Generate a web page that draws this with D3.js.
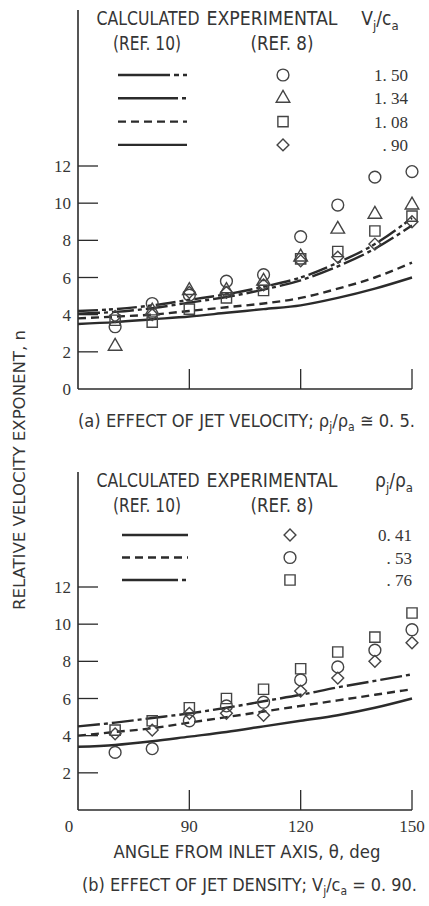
<!DOCTYPE html>
<html>
<head>
<meta charset="utf-8">
<script src="https://cdn.jsdelivr.net/npm/d3@7"></script>
<style>
  body { margin: 0; background: #fff; }
  svg { display: block; }
  .lbl { font-family: "Liberation Sans Narrow", "DejaVu Sans Condensed", "Roboto Condensed", sans-serif; fill: #353535; }
  .num { font-family: "Liberation Serif", "DejaVu Serif", serif; fill: #353535; }
</style>
</head>
<body>
<svg width="429" height="906"></svg>
<script>
// angles along the calculated curves
const curveAngles = [60, 70, 80, 90, 100, 110, 120, 130, 140, 150];
// angles of the measured points
const pointAngles = [70, 80, 90, 100, 110, 120, 130, 140, 150];

// (a) jet velocity, Vj/ca
const calcA150 = [4.2, 4.3, 4.5, 4.8, 5.1, 5.5, 6.0, 6.8, 7.8, 9.2];
const calcA134 = [4.05, 4.15, 4.35, 4.65, 4.95, 5.35, 5.85, 6.6, 7.55, 8.8];
const calcA108 = [3.8, 3.9, 4.0, 4.2, 4.4, 4.6, 4.9, 5.4, 6.0, 6.8];
const calcA090 = [3.5, 3.6, 3.75, 3.9, 4.1, 4.3, 4.5, 4.9, 5.4, 6.0];

const expA150 = [3.35, 4.6, 5.05, 5.8, 6.15, 8.2, 9.9, 11.4, 11.7];
const expA134 = [2.3, 4.2, 5.3, 5.3, 5.8, 7.1, 8.6, 9.4, 9.9];
const expA108 = [3.7, 3.6, 4.3, 4.9, 5.3, 7.0, 7.4, 8.5, 9.3];
const expA090 = [3.9, 4.0, 5.2, 5.2, 5.6, 6.9, 7.1, 7.8, 9.0];

const labelsA = ["1. 50", "1. 34", "1. 08", ". 90"];

// (b) jet density, rhoj/rhoa
const calcB041 = [3.4, 3.5, 3.7, 3.95, 4.2, 4.5, 4.8, 5.1, 5.5, 6.0];
const calcB053 = [4.0, 4.2, 4.4, 4.7, 5.0, 5.3, 5.6, 5.9, 6.2, 6.5];
const calcB076 = [4.5, 4.7, 4.95, 5.2, 5.5, 5.85, 6.2, 6.6, 6.95, 7.3];

const expB041 = [4.1, 4.3, 5.2, 5.2, 5.1, 6.4, 7.1, 8.0, 9.0];
const expB053 = [3.1, 3.3, 4.8, 5.6, 5.8, 7.0, 7.7, 8.6, 9.7];
const expB076 = [4.3, 4.8, 5.5, 6.0, 6.5, 7.6, 8.5, 9.3, 10.6];

const labelsB = ["0. 41", ". 53", ". 76"];

const yTicks = [2, 4, 6, 8, 10, 12];
const xTicks = [90, 120, 150];

const ink = "#2b2b2b";
const svg = d3.select("svg");

const x = d3.scaleLinear().domain([60, 150]).range([78, 412]);

const dashes = {
  longShortShort: "20,4,4,3,4,4",
  longShort: "22,4,4,4",
  dashed: "8,5",
  solid: null
};

function symbolPath(type) {
  const t = {
    circle: d3.symbolCircle, triangle: d3.symbolTriangle,
    square: d3.symbolSquare, diamond: d3.symbolSquare
  }[type];
  const size = { circle: 110, triangle: 80, square: 105, diamond: 70 }[type];
  return d3.symbol(t, size)();
}

function drawSymbol(g, type, cx, cy) {
  g.append("path")
    .attr("d", symbolPath(type))
    .attr("transform", `translate(${cx},${cy})` + (type === "diamond" ? " rotate(45)" : ""))
    .attr("fill", "none")
    .attr("stroke", "#444")
    .attr("stroke-width", 1.4);
}

// text helper: fixed width so the scan's condensed lettering lines up
function label(sel, cls, x0, y0, size, txt, len, anchor) {
  const t = sel.append("text").attr("class", cls).attr("x", x0).attr("y", y0)
    .attr("font-size", size).attr("text-anchor", anchor || "middle").text(txt);
  if (len) t.attr("textLength", len).attr("lengthAdjust", "spacingAndGlyphs");
  return t;
}

function drawPanel(opt) {
  const y = d3.scaleLinear().domain([0, 12]).range([opt.bottom, opt.bottom - 223]);
  const g = svg.append("g");

  // axes
  g.append("line").attr("x1", x(60)).attr("x2", x(60))
    .attr("y1", opt.axisTop).attr("y2", y(0))
    .attr("stroke", ink).attr("stroke-width", 1.6);
  g.append("line").attr("x1", x(60)).attr("x2", x(150))
    .attr("y1", y(0)).attr("y2", y(0))
    .attr("stroke", ink).attr("stroke-width", 1.6);

  yTicks.forEach(t => {
    g.append("line").attr("x1", x(60)).attr("x2", x(60) + 20)
      .attr("y1", y(t)).attr("y2", y(t))
      .attr("stroke", ink).attr("stroke-width", 1.3);
    g.append("text").attr("class", "num")
      .attr("x", 71).attr("y", y(t)).attr("dy", "0.36em")
      .attr("text-anchor", "end").attr("font-size", 17).text(t);
  });
  xTicks.forEach(t => {
    g.append("line").attr("x1", x(t)).attr("x2", x(t))
      .attr("y1", y(0)).attr("y2", y(0) - 20)
      .attr("stroke", ink).attr("stroke-width", 1.3);
  });

  // curves
  const line = d3.line()
    .x((d, i) => x(curveAngles[i]))
    .y(d => y(d))
    .curve(d3.curveMonotoneX);

  opt.series.forEach(s => {
    g.append("path").attr("d", line(s.calc))
      .attr("fill", "none").attr("stroke", ink)
      .attr("stroke-width", 2.4)
      .attr("stroke-dasharray", dashes[s.dash]);
  });

  // measured points
  opt.series.forEach(s => {
    s.exp.forEach((v, i) => drawSymbol(g, s.symbol, x(pointAngles[i]), y(v)));
  });

  // legend
  const hy = opt.legendHeader;
  label(g, "lbl", 148, hy, 19, "CALCULATED", 103);
  label(g, "lbl", 147, hy + 25, 19, "(REF. 10)", 68);
  label(g, "lbl", 272, hy, 19, "EXPERIMENTAL", 131);
  label(g, "lbl", 282, hy + 25, 19, "(REF. 8)", 63);

  const ht = g.append("text").attr("class", "lbl").attr("x", opt.ratioX).attr("y", hy)
    .attr("text-anchor", "middle").attr("font-size", 19);
  ht.append("tspan").text(opt.ratio[0]);
  ht.append("tspan").attr("font-size", 13).attr("dy", 5).text(opt.ratio[1]);
  ht.append("tspan").attr("dy", -5).text("/" + opt.ratio[2]);
  ht.append("tspan").attr("font-size", 13).attr("dy", 5).text(opt.ratio[3]);

  opt.series.forEach((s, i) => {
    const ry = opt.rowTop + i * opt.rowStep;
    g.append("line").attr("x1", opt.keyX[0]).attr("x2", opt.keyX[1])
      .attr("y1", ry).attr("y2", ry)
      .attr("stroke", ink).attr("stroke-width", 2.4)
      .attr("stroke-dasharray", s.legendDash);
    drawSymbol(g, s.symbol, opt.symX, ry);
    g.append("text").attr("class", "num")
      .attr("x", opt.valX).attr("y", ry).attr("dy", "0.36em")
      .attr("text-anchor", "end").attr("font-size", 17).text(s.label);
  });
  return y;
}

// panel (a)
const yA = drawPanel({
  bottom: 389, axisTop: 10, legendHeader: 25,
  ratio: ["V", "j", "c", "a"], ratioX: 380,
  rowTop: 75, rowStep: 23.3, keyX: [118, 187], symX: 283, valX: 408,
  series: [
    { calc: calcA150, exp: expA150, symbol: "circle", dash: "longShortShort", legendDash: "52,4,5,4,5,4", label: labelsA[0] },
    { calc: calcA134, exp: expA134, symbol: "triangle", dash: "longShort", legendDash: "60,4,4,4", label: labelsA[1] },
    { calc: calcA108, exp: expA108, symbol: "square", dash: "dashed", legendDash: "8,5", label: labelsA[2] },
    { calc: calcA090, exp: expA090, symbol: "diamond", dash: "solid", legendDash: null, label: labelsA[3] }
  ]
});
svg.append("text").attr("class", "num").attr("x", 71).attr("y", yA(0)).attr("dy", "0.36em")
  .attr("text-anchor", "end").attr("font-size", 17).text("0");

const capA = svg.append("text").attr("class", "lbl").attr("x", 78).attr("y", 427).attr("font-size", 18)
  .attr("textLength", 337).attr("lengthAdjust", "spacingAndGlyphs");
capA.append("tspan").text("(a) EFFECT OF JET VELOCITY;  \u03C1");
capA.append("tspan").attr("font-size", 12).attr("dy", 4).text("j");
capA.append("tspan").attr("dy", -4).text("/\u03C1");
capA.append("tspan").attr("font-size", 12).attr("dy", 4).text("a");
capA.append("tspan").attr("dy", -4).text(" \u2245 0. 5.");

// panel (b)
const yB = drawPanel({
  bottom: 810, axisTop: 472, legendHeader: 487,
  ratio: ["\u03C1", "j", "\u03C1", "a"], ratioX: 394,
  rowTop: 535, rowStep: 22.5, keyX: [122, 188], symX: 290, valX: 412,
  series: [
    { calc: calcB041, exp: expB041, symbol: "diamond", dash: "solid", legendDash: null, label: labelsB[0] },
    { calc: calcB053, exp: expB053, symbol: "circle", dash: "dashed", legendDash: "8,5", label: labelsB[1] },
    { calc: calcB076, exp: expB076, symbol: "square", dash: "longShort", legendDash: "56,4,4,4", label: labelsB[2] }
  ]
});

[0].concat(xTicks).forEach(t => {
  svg.append("text").attr("class", "num")
    .attr("x", t === 0 ? 69 : x(t)).attr("y", 832)
    .attr("text-anchor", "middle").attr("font-size", 17).text(t);
});

label(svg, "lbl", 247, 858, 18, "ANGLE FROM INLET AXIS,  \u03B8,  deg", 267);

const capB = svg.append("text").attr("class", "lbl").attr("x", 82).attr("y", 891).attr("font-size", 18)
  .attr("textLength", 335).attr("lengthAdjust", "spacingAndGlyphs");
capB.append("tspan").text("(b) EFFECT OF JET DENSITY;  V");
capB.append("tspan").attr("font-size", 12).attr("dy", 4).text("j");
capB.append("tspan").attr("dy", -4).text("/c");
capB.append("tspan").attr("font-size", 12).attr("dy", 4).text("a");
capB.append("tspan").attr("dy", -4).text(" = 0. 90.");

label(svg, "lbl", 0, 0, 16, "RELATIVE VELOCITY EXPONENT, n", 280)
  .attr("transform", "translate(25,470) rotate(-90)");
</script>
</body>
</html>
